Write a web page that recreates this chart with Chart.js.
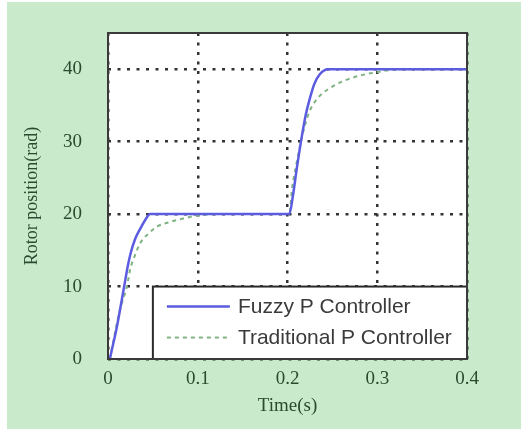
<!DOCTYPE html>
<html>
<head>
<meta charset="utf-8">
<script src="https://cdn.jsdelivr.net/npm/chart.js@4"></script>
<style>
  html, body { margin: 0; padding: 0; background: #fff; }
  #wrap { width: 528px; height: 432px; }
</style>
</head>
<body>
<div id="wrap"><canvas id="myChart" width="528" height="432"></canvas></div>
<script>
// time (s) and rotor position (rad)
var fuzzyTime = [0.002, 0.006, 0.010, 0.014, 0.018, 0.022, 0.025, 0.030, 0.036, 0.042, 0.047, 0.10, 0.15, 0.202,
                 0.206, 0.210, 0.215, 0.220, 0.225, 0.230, 0.236, 0.245, 0.30, 0.35, 0.40];
var fuzzyPos  = [0, 2.2, 4.5, 7.2, 10, 12.8, 14.5, 16.5, 18, 19.3, 20, 20, 20, 20,
                 22.5, 26, 30, 33.5, 36, 38, 39.3, 40, 40, 40, 40];

var tradTime = [0.002, 0.006, 0.010, 0.015, 0.021, 0.025, 0.030, 0.036, 0.045, 0.055, 0.066, 0.084, 0.10, 0.12, 0.15, 0.202,
                0.205, 0.210, 0.215, 0.220, 0.225, 0.235, 0.250, 0.265, 0.280, 0.30, 0.325, 0.35, 0.40];
var tradPos  = [0, 2.5, 5, 7.5, 10, 12.5, 14.3, 16, 17.3, 18.3, 18.8, 19.4, 19.8, 20, 20, 20,
                23.5, 27, 30, 32.5, 34.3, 36.2, 37.6, 38.5, 39.1, 39.6, 40, 40, 40];

var xTicks = [0, 0.1, 0.2, 0.3, 0.4];
var yTicks = [0, 10, 20, 30, 40];
var seriesNames = ['Fuzzy P Controller', 'Traditional P Controller'];

function toPoints(xs, ys) {
    return xs.map(function (x, i) { return { x: x, y: ys[i] }; });
}

var tickColor = '#2b4a30';
var gridColor = '#333333';
var serif = "'Liberation Serif', 'Times New Roman', serif";

var backgroundPlugin = {
    id: 'background',
    beforeDraw: function (chart) {
        var ctx = chart.ctx, a = chart.chartArea;
        ctx.save();
        ctx.fillStyle = '#ffffff';
        ctx.fillRect(0, 0, chart.width, chart.height);
        ctx.fillStyle = '#c9ebcc';
        ctx.fillRect(7, 2, 514, 427);
        ctx.fillStyle = '#ffffff';
        ctx.fillRect(a.left, a.top, a.right - a.left, a.bottom - a.top);
        ctx.restore();
    }
};

// frame round the plot and the boxed legend in the lower right
var framePlugin = {
    id: 'frameLegend',
    afterDatasetsDraw: function (chart) {
        var ctx = chart.ctx, a = chart.chartArea;
        var xs = chart.scales.x, ys = chart.scales.y;
        var left = xs.getPixelForValue(0.05), top = ys.getPixelForValue(10);
        ctx.save();
        ctx.fillStyle = '#ffffff';
        ctx.fillRect(left, top, a.right - left, a.bottom - top);
        ctx.strokeStyle = '#2a2a2a';
        ctx.lineWidth = 2;
        ctx.strokeRect(left, top, a.right - left, a.bottom - top);

        var rows = [top + 20, top + 51];
        chart.data.datasets.forEach(function (ds, i) {
            ctx.beginPath();
            ctx.strokeStyle = ds.borderColor;
            ctx.lineWidth = ds.borderWidth;
            ctx.setLineDash(ds.borderDash || []);
            ctx.moveTo(left + 14, rows[i]);
            ctx.lineTo(left + 77, rows[i]);
            ctx.stroke();
            ctx.setLineDash([]);
            ctx.fillStyle = '#3a3a3a';
            ctx.font = "21px 'Liberation Sans', Arial, sans-serif";
            ctx.textBaseline = 'middle';
            ctx.fillText(ds.label, left + 85, rows[i] + 1);
        });

        ctx.strokeStyle = '#3a3a3a';
        ctx.lineWidth = 2;
        ctx.strokeRect(a.left, a.top, a.right - a.left, a.bottom - a.top);
        ctx.restore();
    }
};

var ctx = document.getElementById('myChart').getContext('2d');
var myChart = new Chart(ctx, {
    type: 'line',
    data: {
        datasets: [{
            label: seriesNames[0],
            data: toPoints(fuzzyTime, fuzzyPos),
            borderColor: '#5c5ce0',
            borderWidth: 2.5,
            pointRadius: 0,
            cubicInterpolationMode: 'monotone',
            fill: false
        },
        {
            label: seriesNames[1],
            data: toPoints(tradTime, tradPos),
            borderColor: '#7fb482',
            borderWidth: 2,
            borderDash: [4, 4],
            pointRadius: 0,
            cubicInterpolationMode: 'monotone',
            fill: false
        }]
    },
    options: {
        responsive: false,
        animation: false,
        layout: { padding: { left: 0, top: 33, right: 61, bottom: 0 } },
        plugins: {
            legend: { display: false },
            tooltip: { enabled: false }
        },
        scales: {
            x: {
                type: 'linear',
                min: 0,
                max: 0.4,
                afterBuildTicks: function (scale) {
                    scale.ticks = xTicks.map(function (v) { return { value: v }; });
                },
                afterFit: function (scale) { scale.height = 73; },
                ticks: {
                    padding: 9,
                    color: tickColor,
                    font: { family: serif, size: 19 },
                    callback: function (v) { return String(v); }
                },
                grid: {
                    drawTicks: false,
                    color: gridColor,
                    lineWidth: 2.5
                },
                border: { display: false, dash: [3, 6.5] },
                title: {
                    display: true,
                    text: 'Time(s)',
                    color: tickColor,
                    font: { family: serif, size: 19 },
                    padding: { top: 0, bottom: 15 }
                }
            },
            y: {
                min: 0,
                max: 45,
                afterBuildTicks: function (scale) {
                    scale.ticks = yTicks.map(function (v) { return { value: v }; });
                },
                afterFit: function (scale) {
                    scale.width = 108;
                    scale.paddingTop = 0;
                    scale.paddingBottom = 0;
                },
                ticks: {
                    padding: 26,
                    color: tickColor,
                    font: { family: serif, size: 19 }
                },
                grid: {
                    drawTicks: false,
                    color: gridColor,
                    lineWidth: 2.5
                },
                border: { display: false, dash: [3, 6.5] },
                title: {
                    display: true,
                    text: 'Rotor position(rad)',
                    color: tickColor,
                    font: { family: serif, size: 18 },
                    padding: { top: 21, bottom: 0 }
                }
            }
        }
    },
    plugins: [backgroundPlugin, framePlugin]
});
</script>
</body>
</html>
